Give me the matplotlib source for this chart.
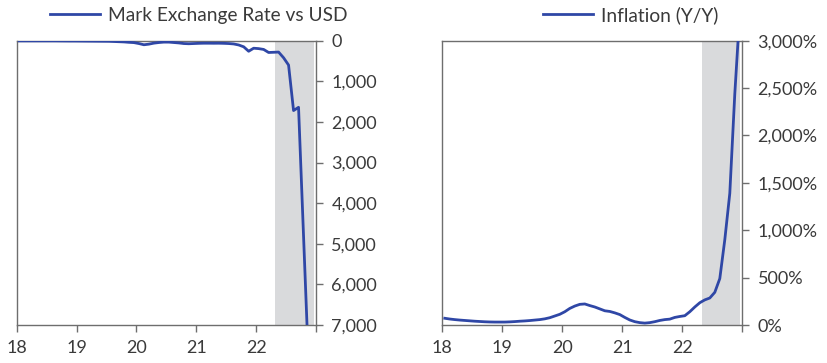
import numpy as np
import matplotlib
matplotlib.use("Agg")
import matplotlib.pyplot as plt
from matplotlib.ticker import FuncFormatter

plt.rcParams['font.family'] = ['Lato', 'DejaVu Sans']

# Monthly observations, Jan 1918 onward (plotted at mid-month, years as 18, 19, ...)
mark_usd = [5, 5, 5, 5, 5, 5, 5, 5, 6, 7, 8, 8,
            9, 10, 11, 12, 13, 14, 15, 20, 25, 30, 40, 47,
            70, 100, 85, 60, 45, 35, 35, 45, 55, 70, 75, 70,
            65, 62, 62, 63, 62, 65, 70, 80, 105, 150, 260, 185,
            195, 215, 290, 285, 280, 420, 600, 1720, 1640, 4800, 7950]

inflation_yy = [71, 63, 57, 52, 48, 44, 40, 37, 34, 32, 31, 31,
                31, 33, 36, 40, 43, 47, 52, 57, 65, 77, 95, 113,
                140, 175, 200, 218, 222, 205, 190, 170, 150, 143, 128, 110,
                80, 53, 35, 25, 20, 25, 35, 48, 57, 62, 80, 90,
                98, 140, 190, 235, 265, 285, 345, 490, 900, 1390, 2440, 3300]

mark_dates = 18 + (np.arange(len(mark_usd)) + 0.5) / 12
infl_dates = 18 + (np.arange(len(inflation_yy)) + 0.5) / 12

year_ticks = [18, 19, 20, 21, 22, 23]
year_labels = ['18', '19', '20', '21', '22', '']
shade_span = (22.32, 22.96)

LINE = '#2F47A6'
SHADE = '#D9DADC'
SPINE = '#6E6E6E'
TEXT = '#3A3A3A'

W, H = 828, 363
fig = plt.figure(figsize=(W / 100, H / 100), dpi=100)

def px_axes(x0, x1, y_top, y_bot):
    return fig.add_axes([x0 / W, 1 - y_bot / H, (x1 - x0) / W, (y_bot - y_top) / H])

ax1 = px_axes(16.7, 316.0, 40.7, 325.0)
ax2 = px_axes(442.3, 742.3, 40.7, 325.0)

def style(ax):
    for s in ax.spines.values():
        s.set_color(SPINE)
        s.set_linewidth(1.0)
    ax.yaxis.tick_right()
    ax.tick_params(axis='both', which='major', direction='out', length=5,
                   width=1.0, color=SPINE, labelsize=13, labelcolor=TEXT, pad=6)
    ax.tick_params(axis='y', left=False, right=True, labelleft=False, labelright=True)
    ax.set_xlim(18, 23)
    ax.set_xticks(year_ticks)
    ax.set_xticklabels(year_labels)
    ax.axvspan(*shade_span, color=SHADE, lw=0, zorder=0)

# Left: exchange rate, inverted axis
style(ax1)
ax1.plot(mark_dates, mark_usd, color=LINE, lw=2.0, solid_joinstyle='round',
         label='Mark Exchange Rate vs USD', zorder=3)
ax1.set_ylim(7000, 0)
ax1.set_yticks(range(0, 7001, 1000))
ax1.yaxis.set_major_formatter(FuncFormatter(lambda v, p: f'{int(v):,}'))

# Right: year-over-year inflation
style(ax2)
ax2.plot(infl_dates, inflation_yy, color=LINE, lw=2.0, solid_joinstyle='round',
         label='Inflation (Y/Y)', zorder=3)
ax2.set_ylim(0, 3000)
ax2.set_yticks(range(0, 3001, 500))
ax2.yaxis.set_major_formatter(FuncFormatter(lambda v, p: f'{int(v):,}%'))

for ax, cx in ((ax1, 198.5), (ax2, 630.7)):
    ax.legend(loc='center', bbox_to_anchor=(cx / W, 1 - 15 / H),
              bbox_transform=fig.transFigure, frameon=False, fontsize=13.8,
              handlelength=2.6, handletextpad=0.42, labelcolor=TEXT,
              borderpad=0, borderaxespad=0)

fig.savefig('out.png', dpi=100)
